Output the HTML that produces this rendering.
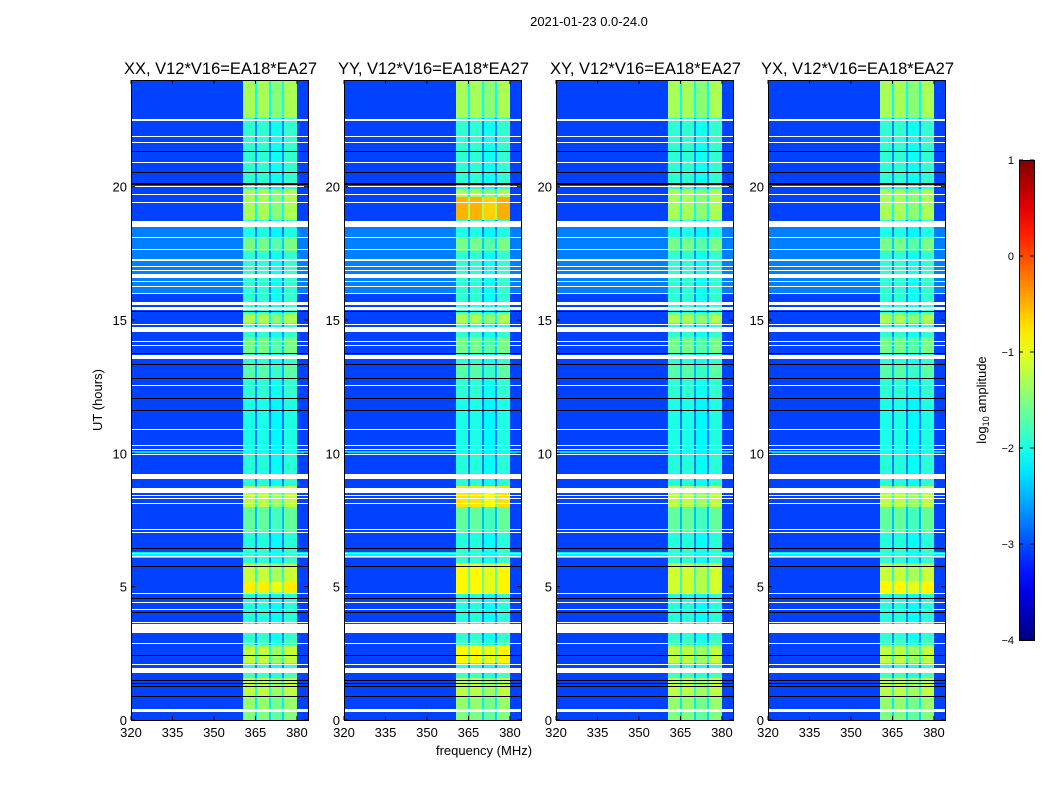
<!DOCTYPE html>
<html><head><meta charset="utf-8"><style>
body{margin:0;background:#fff;width:1050px;height:800px;overflow:hidden;position:relative;font-family:"Liberation Sans",sans-serif}
canvas{position:absolute;top:80px;image-rendering:pixelated}
svg{position:absolute;left:0;top:0}
</style></head><body>
<canvas id="c0" width="177" height="640" style="left:131px"></canvas>
<canvas id="c1" width="177" height="640" style="left:344px"></canvas>
<canvas id="c2" width="177" height="640" style="left:556px"></canvas>
<canvas id="c3" width="177" height="640" style="left:768px"></canvas>
<svg id="ov" width="1050" height="800"></svg>
<script>
const panelTitles=["XX, V12*V16=EA18*EA27","YY, V12*V16=EA18*EA27","XY, V12*V16=EA18*EA27","YX, V12*V16=EA18*EA27"];
const xTicks=[320,335,350,365,380];
const yTicks=[0,5,10,15,20];
const cbTicks=[1,0,-1,-2,-3,-4];
const cbTickLabels=["1","0","\u22121","\u22122","\u22123","\u22124"];
// band level segments [startHour,endHour,log10 amplitude]
const bandSegs=[[0,0.29,-1.5],[0.4,0.81,-1.4],[0.81,1.56,-1.2],[1.56,1.77,-1.8],[2.13,2.81,-1.2],[2.87,3.0,-1.8],[3.66,4.73,-1.95],[4.75,5.88,-1.15],[5.88,6.44,-1.9],[6.44,7.02,-1.95],[7.02,8.0,-1.65],[8.0,8.77,-1.2],[8.77,9.9,-1.95],[9.9,12.06,-2.0],[12.8,13.3,-1.7],[13.75,14.37,-1.55],[14.88,15.25,-1.3],[15.3,17.6,-1.9],[17.6,18.06,-1.55],[18.06,18.5,-2.0],[18.75,19.93,-1.3],[20.0,22.5,-1.9],[22.56,24,-1.3]];
// background level segments
const bgSegs=[[0,24,-3.05],[16.0,18.5,-2.75],[6.06,6.31,-2.2],[10.0,10.1,-2.3]];
// flagged rows (white) [start,end]
const whiteRows=[[0.29,0.4],[1.77,1.94],[2.07,2.11],[2.85,2.9],[3.25,3.59],[3.64,3.68],[4.13,4.17],[4.38,4.42],[4.71,4.75],[6.1,6.14],[6.21,6.25],[7.0,7.04],[7.13,7.17],[8.11,8.15],[8.27,8.31],[8.39,8.43],[8.53,8.69],[9.04,9.22],[9.94,9.98],[10.13,10.17],[10.29,10.33],[10.88,10.92],[12.54,12.58],[13.53,13.69],[14.02,14.06],[14.17,14.21],[14.56,14.75],[14.82,14.86],[15.37,15.5],[15.56,15.68],[15.98,16.02],[16.23,16.27],[16.41,16.45],[16.56,16.72],[16.85,16.89],[16.98,17.02],[17.23,17.27],[17.64,17.68],[18.08,18.12],[18.5,18.72],[19.38,19.42],[19.69,19.73],[19.98,20.02],[20.89,20.93],[21.64,21.68],[21.85,21.89],[22.48,22.52]];
// dark rows (black) [start,end]
const blackRows=[[0.88,0.9],[1.0,1.02],[1.12,1.14],[1.24,1.26],[1.36,1.38],[1.48,1.5],[2.4,2.42],[2.99,3.01],[4.03,4.05],[4.55,4.57],[5.74,5.76],[5.87,5.89],[5.99,6.01],[6.43,6.45],[8.8,8.82],[9.36,9.38],[9.86,9.88],[11.59,11.61],[11.69,11.71],[12.05,12.07],[12.79,12.81],[13.32,13.34],[13.74,13.76],[14.36,14.38],[15.3,15.32],[19.52,19.54],[20.05,20.13],[20.52,20.54],[21.3,21.32]];
// channel sub-bands [fStart,fEnd,offset]
const chanBands=[[360.5,364.8,0],[364.8,365.5,-0.8],[365.5,369.9,0],[369.9,370.6,-0.8],[370.6,374.6,-0.15],[374.6,375.3,-0.8],[375.3,380.0,0.02]];
// per-panel band boosts [start,end,delta]
const panelDeltas=[[[4.81,5.19,0.35]],[[18.75,19.6,0.8],[8.0,8.77,0.45],[4.75,5.88,0.3],[2.13,2.81,0.35]],[[4.75,5.88,0.05]],[[4.75,5.2,0.3]]];

const FMIN=320,FMAX=384,TMIN=0,TMAX=24,PW=177,PH=640,VMIN=-4,VMAX=1;
const lefts=[131,344,556,768],TOP=80;
const xs=f=>(f-FMIN)/(FMAX-FMIN)*PW, ys=t=>PH-(t-TMIN)/(TMAX-TMIN)*PH;
const fOf=px=>FMIN+(px+0.5)/PW*(FMAX-FMIN), tOf=py=>TMAX-(py+0.5)/PH*(TMAX-TMIN);
const cl=v=>Math.max(0,Math.min(1,v));
function jet(v){v=cl((v-VMIN)/(VMAX-VMIN));return [cl(Math.min(4*v-1.5,-4*v+4.5))*255,cl(Math.min(4*v-0.5,-4*v+3.5))*255,cl(Math.min(4*v+0.5,-4*v+2.5))*255];}
const inS=(segs,t)=>segs.find(s=>t>=s[0]&&t<s[1]);
for(let p=0;p<4;p++){
  const ctx=document.getElementById('c'+p).getContext('2d');
  const img=ctx.createImageData(PW,PH);
  for(let py=0;py<PH;py++){
    const t=tOf(py);
    let mode=inS(whiteRows,t)?'w':(inS(blackRows,t)?'k':'d');
    let bg=-3.05;bgSegs.forEach(s=>{if(t>=s[0]&&t<s[1])bg=s[2];});
    const bs=inS(bandSegs,t);let band=bs?bs[2]:-1.9;
    const pd=inS(panelDeltas[p],t);if(pd)band+=pd[2];
    for(let px=0;px<PW;px++){
      const i=(py*PW+px)*4;let c;
      if(mode==='w')c=[255,255,255];else if(mode==='k')c=[0,0,0];
      else{const f=fOf(px);const cb=inS(chanBands,f);let v=bg;if(cb)v=Math.max(bg,band+cb[2]);c=jet(v);}
      img.data[i]=c[0];img.data[i+1]=c[1];img.data[i+2]=c[2];img.data[i+3]=255;
    }
  }
  ctx.putImageData(img,0,0);
}
const NS='http://www.w3.org/2000/svg',ov=document.getElementById('ov');
function mk(tag,attrs,txt){const e=document.createElementNS(NS,tag);for(const k in attrs)e.setAttribute(k,attrs[k]);if(txt!==undefined)e.textContent=txt;ov.appendChild(e);return e;}
let e=mk('text',{x:589,y:26,'font-size':13,'text-anchor':'middle'},'2021-01-23 0.0-24.0');


for(let p=0;p<4;p++){
  const L=lefts[p];
  e=mk('rect',{x:L+0.5,y:TOP+0.5,width:PW,height:PH,fill:'none',stroke:'#000','stroke-width':1});
  
  
  e=mk('text',{x:L+PW/2+1,y:74,'font-size':16.5,'text-anchor':'middle'},panelTitles[p]);
  
  
  xTicks.forEach(f=>{const x=L+xs(f);
    mk('line',{x1:x,x2:x,y1:TOP+PH,y2:TOP+PH-4,stroke:'#000'});mk('line',{x1:x,x2:x,y1:TOP,y2:TOP+4,stroke:'#000'});
    e=mk('text',{x:x,y:737,'font-size':13,'text-anchor':'middle'},String(f));
    
    });
  yTicks.forEach(t=>{const y=TOP+ys(t);
    mk('line',{x1:L,x2:L+4,y1:y,y2:y,stroke:'#000'});mk('line',{x1:L+PW,x2:L+PW-4,y1:y,y2:y,stroke:'#000'});
    e=mk('text',{x:L-4,y:y+5,'font-size':13,'text-anchor':'end'},String(t));
    
    });
}
e=mk('text',{x:102,y:400,'font-size':13,'text-anchor':'middle',transform:'rotate(-90 102 400)'},'UT (hours)');


e=mk('text',{x:484,y:755,'font-size':13,'text-anchor':'middle'},'frequency (MHz)');


const defs=mk('defs',{});const g=document.createElementNS(NS,'linearGradient');g.setAttribute('id','jg');g.setAttribute('x1',0);g.setAttribute('y1',1);g.setAttribute('x2',0);g.setAttribute('y2',0);defs.appendChild(g);
for(let k=0;k<=20;k++){const c=jet(VMIN+k/20*(VMAX-VMIN));const s=document.createElementNS(NS,'stop');s.setAttribute('offset',k/20);s.setAttribute('stop-color','rgb('+c.map(Math.round).join(',')+')');g.appendChild(s);}
const CBX=1019,CBT=160,CBH=480,CBW=15;
e=mk('rect',{x:CBX+0.5,y:CBT+0.5,width:CBW,height:CBH,fill:'url(#jg)',stroke:'#000'});


cbTicks.forEach((v,i)=>{const y=CBT+(VMAX-v)/(VMAX-VMIN)*CBH;
  mk('line',{x1:CBX,x2:CBX+4,y1:y,y2:y,stroke:'#000'});mk('line',{x1:CBX+CBW,x2:CBX+CBW-4,y1:y,y2:y,stroke:'#000'});
  e=mk('text',{x:CBX-5,y:y+4,'font-size':11,'text-anchor':'end'},cbTickLabels[i]);
  
  });
e=mk('text',{x:986,y:400,'font-size':13,'text-anchor':'middle',transform:'rotate(-90 986 400)'});
e.innerHTML='log<tspan font-size="9" dy="3">10</tspan><tspan dy="-3"> amplitude</tspan>';


</script>
</body></html>
